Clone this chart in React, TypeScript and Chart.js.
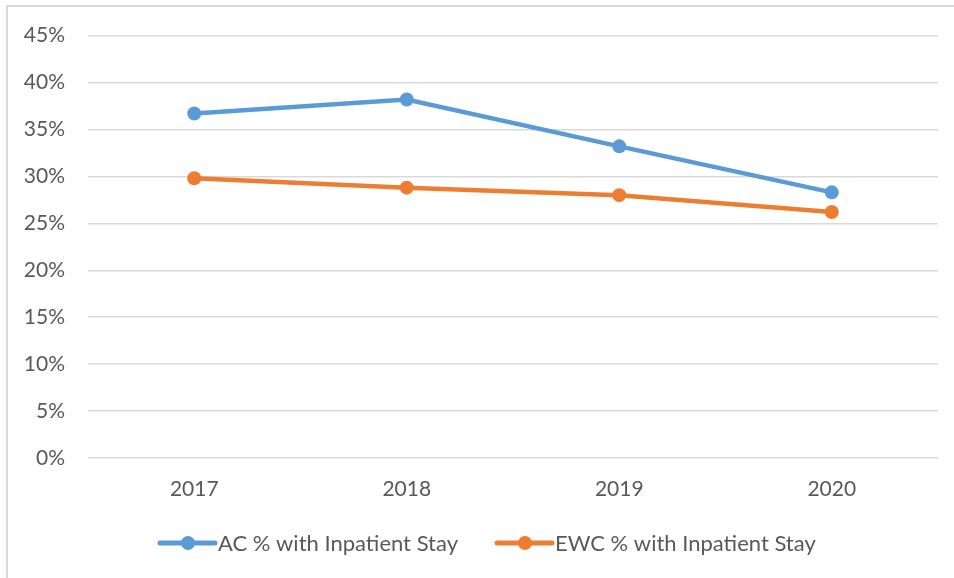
import React, { useEffect, useRef } from "react";
import { Chart, registerables } from "chart.js";

Chart.register(...registerables);

const categories = ["2017", "2018", "2019", "2020"];
const acValues = [36.7, 38.2, 33.2, 28.3];
const ewcValues = [29.8, 28.8, 28.0, 26.2];
const seriesNames = ["AC % with Inpatient Stay", "EWC % with Inpatient Stay"];
const seriesColors = ["#5B9BD5", "#ED7D31"];
const yMin = 0;
const yMax = 45;
const yStep = 5;

const FONT = "Lato, 'Open Sans', sans-serif";
const TEXT_COLOR = "#595959";

const legendPlugin = {
  id: "customLegend",
  afterDraw(chart: any) {
    const ctx = chart.ctx;
    const y = 543;
    const starts = [160, 497];
    ctx.save();
    ctx.font = `22px ${FONT}`;
    ctx.textBaseline = "middle";
    ctx.textAlign = "left";
    chart.data.datasets.forEach((ds: any, i: number) => {
      const x0 = starts[i];
      ctx.strokeStyle = ds.borderColor;
      ctx.lineWidth = 5;
      ctx.lineCap = "round";
      ctx.beginPath();
      ctx.moveTo(x0, y);
      ctx.lineTo(x0 + 55, y);
      ctx.stroke();
      ctx.fillStyle = ds.borderColor;
      ctx.beginPath();
      ctx.arc(x0 + 28, y, 7, 0, Math.PI * 2);
      ctx.fill();
      ctx.fillStyle = TEXT_COLOR;
      ctx.fillText(ds.label, x0 + 58, y + 1);
    });
    ctx.restore();
  },
};

export default function App() {
  const ref = useRef<HTMLCanvasElement | null>(null);
  useEffect(() => {
    if (!ref.current) return;
    const chart = new Chart(ref.current, {
      type: "line",
      data: {
        labels: categories,
        datasets: [
          {
            label: seriesNames[0],
            data: acValues,
            borderColor: seriesColors[0],
            backgroundColor: seriesColors[0],
            borderWidth: 4.5,
            pointRadius: 7,
            pointBorderWidth: 0,
            tension: 0,
          },
          {
            label: seriesNames[1],
            data: ewcValues,
            borderColor: seriesColors[1],
            backgroundColor: seriesColors[1],
            borderWidth: 4.5,
            pointRadius: 7,
            pointBorderWidth: 0,
            tension: 0,
          },
        ],
      },
      options: {
        responsive: false,
        animation: false,
        layout: { padding: { left: 0, right: 16, top: 35, bottom: 70 } },
        plugins: {
          legend: { display: false },
          tooltip: { enabled: false },
        },
        scales: {
          x: {
            offset: true,
            grid: { display: false, drawTicks: false },
            border: { display: false },
            ticks: {
              color: TEXT_COLOR,
              font: { family: FONT, size: 21 },
              padding: 19,
            },
            afterFit(scale: any) {
              scale.height = 50;
            },
          },
          y: {
            min: yMin,
            max: yMax,
            grid: { color: "#d9d9d9", lineWidth: 1.5, drawTicks: false },
            border: { display: false },
            ticks: {
              stepSize: yStep,
              color: TEXT_COLOR,
              font: { family: FONT, size: 21 },
              padding: 23,
              callback: (v: any) => `${v}%`,
            },
            afterFit(scale: any) {
              scale.width = 88;
            },
          },
        },
      },
      plugins: [legendPlugin],
    });
    return () => chart.destroy();
  }, []);
  return (
    <div style={{ position: "fixed", left: 0, top: 0, width: 954, height: 578, background: "#fff" }}>
      <canvas ref={ref} width={954} height={578} style={{ position: "absolute", left: 0, top: 0 }} />
      <div
        style={{
          position: "absolute",
          left: 6,
          top: 5,
          width: 960,
          height: 600,
          borderLeft: "2px solid #d9d9d9",
          borderTop: "2px solid #d9d9d9",
          pointerEvents: "none",
        }}
      />
    </div>
  );
}
